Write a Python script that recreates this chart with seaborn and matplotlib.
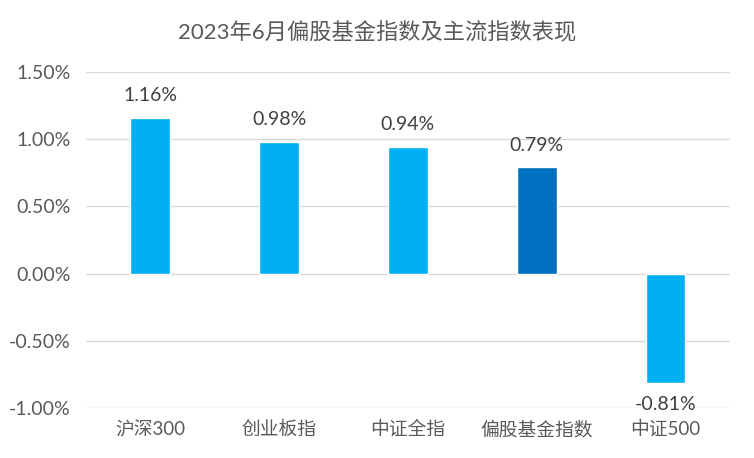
import matplotlib
matplotlib.use("Agg")
import matplotlib.pyplot as plt
import seaborn as sns
import pandas as pd
from matplotlib.ticker import FuncFormatter

categories = ["沪深300", "创业板指", "中证全指", "偏股基金指数", "中证500"]
values = [1.16, 0.98, 0.94, 0.79, -0.81]
highlight = [False, False, False, True, False]
title = "2023年6月偏股基金指数及主流指数表现"

sns.set_theme(style="white")
plt.rcParams['font.family'] = ['Lato', 'Noto Sans CJK SC', 'DejaVu Sans']

df = pd.DataFrame({"cat": categories, "val": [v / 100 for v in values],
                   "grp": ["hi" if h else "lo" for h in highlight]})

fig = plt.figure(figsize=(7.54, 4.58), dpi=100)
ax = fig.add_axes([0.114, 0.109, 0.854, 0.734])
sns.barplot(data=df, x="cat", y="val", hue="grp", dodge=False,
            palette={"lo": "#00B0F0", "hi": "#0070C0"}, width=0.31,
            legend=False, ax=ax, saturation=1)

ax.set_ylim(-0.01, 0.015)
ax.set_yticks([-0.01, -0.005, 0, 0.005, 0.01, 0.015])
ax.yaxis.set_major_formatter(FuncFormatter(lambda v, p: f"{v*100:.2f}%"))
ax.set_xlim(-0.5, len(categories) - 0.5)
ax.grid(axis='y', color='#D9D9D9', linewidth=1)
ax.set_axisbelow(True)
for s in ax.spines.values():
    s.set_visible(False)
ax.tick_params(axis='both', length=0, colors='#595959')
ax.tick_params(axis='y', pad=11, labelsize=14)
ax.tick_params(axis='x', pad=9, labelsize=13.5)
ax.set_xlabel("")
ax.set_ylabel("")

for i, v in enumerate(values):
    off = 16 if v >= 0 else -16
    ax.annotate(f"{v:.2f}%", (i, v / 100), xytext=(0, off), textcoords='offset points',
                ha='center', va='center', fontsize=14, color='#404040')

fig.text(0.5, 1 - 33 / 458, title, ha='center', va='center', fontsize=16, color='#595959')

fig.savefig("out.png", dpi=100)
